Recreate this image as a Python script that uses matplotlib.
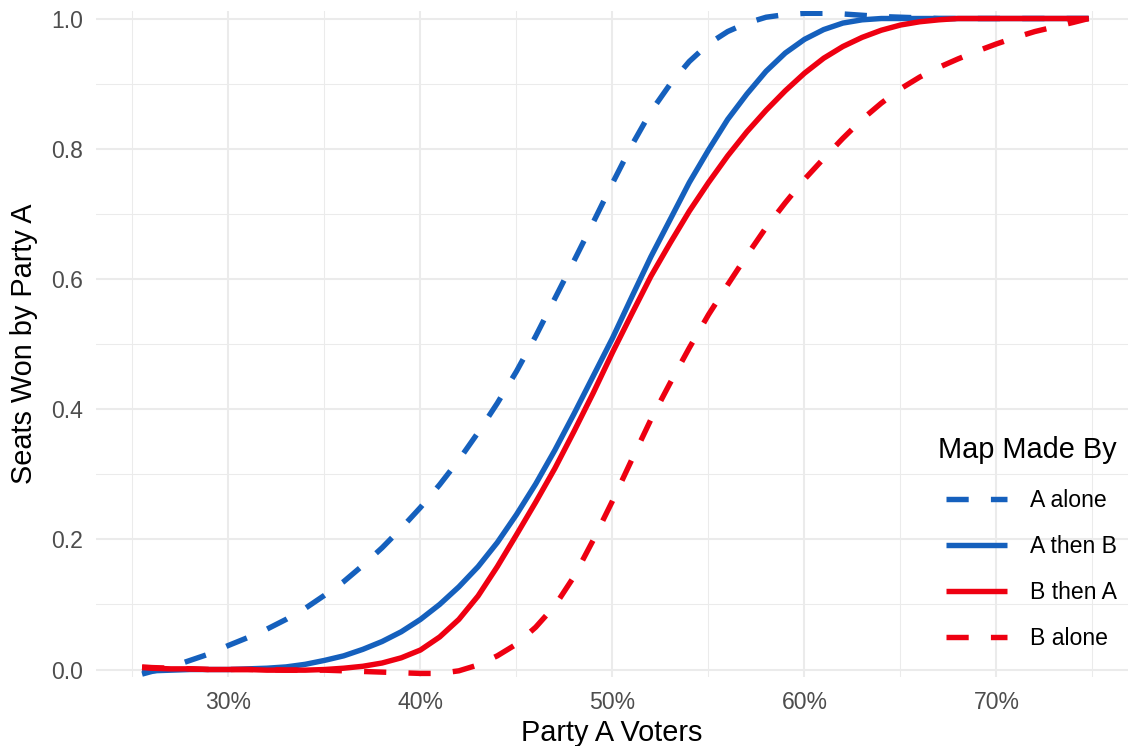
import matplotlib
matplotlib.use("Agg")
import matplotlib.pyplot as plt

plt.rcParams['font.family'] = ['Liberation Sans', 'DejaVu Sans']

# ---- data: x = Party A voters (%), y = share of seats won by Party A ----
voters_pct = [25.5, 26, 27, 28, 29, 30, 31, 32, 33, 34, 35, 36, 37, 38, 39, 40, 41, 42, 43, 44,
              45, 46, 47, 48, 49, 50, 51, 52, 53, 54, 55, 56, 57, 58, 59, 60, 61, 62, 63, 64,
              65, 66, 67, 68, 69, 70, 71, 72, 73, 74, 74.8]

a_alone = [-0.007, -0.003, 0.004, 0.014, 0.024, 0.037, 0.049, 0.062, 0.077, 0.094,
           0.114, 0.135, 0.160, 0.187, 0.217, 0.249, 0.284, 0.322, 0.364, 0.409,
           0.458, 0.512, 0.570, 0.628, 0.687, 0.747, 0.805, 0.857, 0.899, 0.934,
           0.961, 0.980, 0.993, 1.002, 1.006, 1.008, 1.008, 1.007, 1.005, 1.003,
           1.002, 1.001, 1.000, 1.000, 1.000, 1.000, 1.000, 1.000, 1.000, 1.000, 1.000]

a_then_b = [-0.003, -0.002, -0.001, 0.000, 0.000, 0.000, 0.001, 0.002, 0.004, 0.008,
            0.014, 0.021, 0.031, 0.043, 0.058, 0.077, 0.100, 0.127, 0.158, 0.195,
            0.238, 0.285, 0.337, 0.393, 0.451, 0.509, 0.572, 0.634, 0.691, 0.748,
            0.798, 0.845, 0.884, 0.919, 0.947, 0.968, 0.983, 0.993, 0.998, 1.000,
            1.000, 1.000, 1.000, 1.000, 1.000, 1.000, 1.000, 1.000, 1.000, 1.000, 1.000]

b_then_a = [0.003, 0.002, 0.001, 0.001, 0.000, 0.000, 0.000, -0.001, -0.001, -0.001,
            0.000, 0.002, 0.005, 0.010, 0.018, 0.030, 0.050, 0.077, 0.113, 0.158,
            0.207, 0.257, 0.309, 0.366, 0.425, 0.487, 0.546, 0.604, 0.655, 0.704,
            0.748, 0.789, 0.826, 0.859, 0.889, 0.916, 0.939, 0.957, 0.971, 0.982,
            0.990, 0.995, 0.998, 1.000, 1.000, 1.000, 1.000, 1.000, 1.000, 1.000, 1.000]

b_alone = [0.004, 0.003, 0.002, 0.001, 0.000, 0.000, 0.000, 0.000, -0.001, -0.001,
           -0.001, -0.002, -0.003, -0.004, -0.005, -0.006, -0.006, -0.002, 0.007, 0.021,
           0.039, 0.065, 0.098, 0.143, 0.199, 0.259, 0.322, 0.384, 0.440, 0.494,
           0.545, 0.591, 0.636, 0.679, 0.717, 0.753, 0.785, 0.816, 0.845, 0.870,
           0.892, 0.910, 0.925, 0.938, 0.950, 0.961, 0.971, 0.980, 0.987, 0.994, 1.000]

series_labels = ["A alone", "A then B", "B then A", "B alone"]
legend_title = "Map Made By"
x_ticks = [30, 40, 50, 60, 70]
x_tick_labels = ["30%", "40%", "50%", "60%", "70%"]
y_ticks = [0.0, 0.2, 0.4, 0.6, 0.8, 1.0]
y_tick_labels = ["0.0", "0.2", "0.4", "0.6", "0.8", "1.0"]

BLUE = "#1560BD"
RED = "#EE0011"

W, H = 1128, 746
fig = plt.figure(figsize=(W / 100, H / 100), dpi=100)
ax = fig.add_axes([96 / W, (H - 677) / H, (W - 96) / W, (677 - 10.7) / H])

lw = 3.9
dash = (4.1, 4.1)
series = [
    (a_alone, BLUE, True),
    (a_then_b, BLUE, False),
    (b_then_a, RED, False),
    (b_alone, RED, True),
]
handles = []
for (ys, col, dashed), lab in zip(series, series_labels):
    ln, = ax.plot(voters_pct, ys, color=col, lw=lw, solid_capstyle='butt',
                  dash_capstyle='butt', solid_joinstyle='round', label=lab, zorder=3)
    if dashed:
        ln.set_dashes(dash)
    handles.append(ln)

ax.set_xlim(23.1, 76.85)
ax.set_ylim(-0.0115, 1.012)

ax.set_xticks(x_ticks)
ax.set_xticklabels(x_tick_labels)
ax.set_xticks([25, 35, 45, 55, 65, 75], minor=True)
ax.set_yticks(y_ticks)
ax.set_yticklabels(y_tick_labels)
ax.set_yticks([0.1, 0.3, 0.5, 0.7, 0.9], minor=True)

ax.grid(True, which='major', color='#EBEBEB', lw=1.5, zorder=0)
ax.grid(True, which='minor', color='#EBEBEB', lw=0.75, zorder=0)
ax.set_axisbelow(True)
for s in ax.spines.values():
    s.set_visible(False)
ax.tick_params(which='both', length=0)
ax.tick_params(axis='x', pad=10, labelsize=16.6, labelcolor='#4D4D4D')
ax.tick_params(axis='y', pad=9, labelsize=16.6, labelcolor='#4D4D4D')

ax.set_xlabel("Party A Voters", fontsize=20.8, color='black', labelpad=4)
ax.set_ylabel("Seats Won by Party A", fontsize=20.8, color='black', labelpad=10)

leg = ax.legend(handles=handles, loc='upper left',
                bbox_to_anchor=(946 / W, (H - 489) / H), bbox_transform=fig.transFigure,
                frameon=False, fontsize=16.6,
                handlelength=2.65, handletextpad=1.0, labelspacing=1.0, borderpad=0,
                borderaxespad=0)
fig.text(938 / W, 1 - 450 / H, legend_title, fontsize=20.8, color='black',
         ha='left', va='center')

fig.savefig("out.png", dpi=100)
